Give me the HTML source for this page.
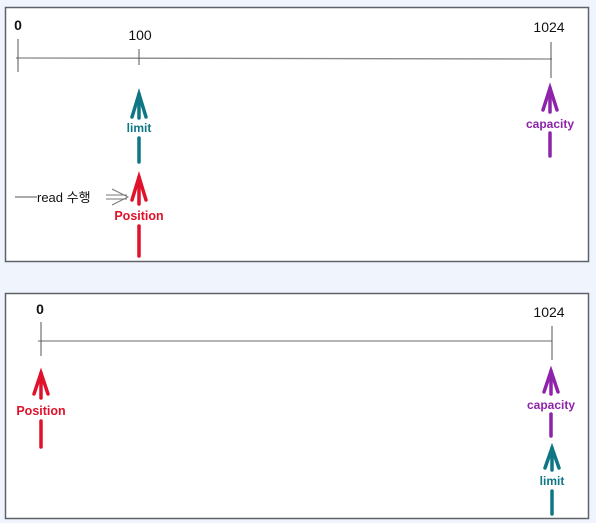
<!DOCTYPE html>
<html><head><meta charset="utf-8"><style>
html,body{margin:0;padding:0;background:#f0f5fd;}
svg{display:block}
text{font-family:"Liberation Sans","Noto Sans CJK KR",sans-serif;}
</style></head><body>
<svg width="596" height="523" viewBox="0 0 596 523" xmlns="http://www.w3.org/2000/svg">
<rect x="0" y="0" width="596" height="523" fill="#f0f5fd"/>
<rect x="5.5" y="7.5" width="583" height="254" fill="#fff" stroke="#5f6368" stroke-width="1.5"/>
<rect x="5.5" y="293.5" width="583" height="225" fill="#fff" stroke="#5f6368" stroke-width="1.5"/>

<line x1="16" y1="58" x2="552" y2="59" stroke="#888" stroke-width="1.3"/>
<line x1="18" y1="39" x2="18" y2="72" stroke="#555" stroke-width="1"/>
<line x1="139" y1="49" x2="139" y2="65" stroke="#555" stroke-width="1"/>
<line x1="551" y1="42" x2="551" y2="78" stroke="#555" stroke-width="1"/>
<text x="18" y="30" font-size="14" text-anchor="middle" fill="#111" font-weight="bold">0</text>
<text x="140" y="40" font-size="14" text-anchor="middle" fill="#111">100</text>
<text x="549" y="32" font-size="14" text-anchor="middle" fill="#111">1024</text>

<g stroke="#0f7685" stroke-width="3.5" fill="none" stroke-linecap="round">
<line x1="139" y1="94" x2="139" y2="118"/>
<polyline points="132,117 139,94 146,117"/>
<line x1="139" y1="138" x2="139" y2="162"/>
</g>
<text x="139" y="132" font-size="12" text-anchor="middle" fill="#0f7685" font-weight="bold">limit</text>

<g stroke="#e0112b" stroke-width="3.5" fill="none" stroke-linecap="round">
<line x1="139" y1="177" x2="139" y2="204"/>
<polyline points="132,200 139,177 146,200"/>
<line x1="139" y1="226" x2="139" y2="256"/>
</g>
<text x="139" y="220" font-size="12.5" text-anchor="middle" fill="#e0112b" font-weight="bold">Position</text>

<line x1="15" y1="197" x2="37" y2="197" stroke="#555" stroke-width="1"/>
<text x="37" y="202" font-size="13" fill="#111">read 수행</text>
<g stroke="#777" stroke-width="1" fill="none">
<line x1="106" y1="195" x2="127" y2="195"/>
<line x1="106" y1="199" x2="127" y2="199"/>
<polyline points="112,189 128,197 112,205"/>
</g>

<g stroke="#8e24aa" stroke-width="3.5" fill="none" stroke-linecap="round">
<line x1="550" y1="88" x2="550" y2="112"/>
<polyline points="543,110 550,88 557,110"/>
<line x1="550" y1="133" x2="550" y2="156"/>
</g>
<text x="550" y="128" font-size="12" text-anchor="middle" fill="#8e24aa" font-weight="bold">capacity</text>

<line x1="38" y1="341" x2="552" y2="341" stroke="#888" stroke-width="1.3"/>
<line x1="41" y1="322" x2="41" y2="356" stroke="#555" stroke-width="1"/>
<line x1="552" y1="326" x2="552" y2="360" stroke="#555" stroke-width="1"/>
<text x="40" y="314" font-size="14" text-anchor="middle" fill="#111" font-weight="bold">0</text>
<text x="549" y="317" font-size="14" text-anchor="middle" fill="#111">1024</text>

<g stroke="#e0112b" stroke-width="3.5" fill="none" stroke-linecap="round">
<line x1="41" y1="373" x2="41" y2="398"/>
<polyline points="34,394 41,373 48,394"/>
<line x1="41" y1="421" x2="41" y2="447"/>
</g>
<text x="41" y="415" font-size="12.5" text-anchor="middle" fill="#e0112b" font-weight="bold">Position</text>

<g stroke="#8e24aa" stroke-width="3.5" fill="none" stroke-linecap="round">
<line x1="551" y1="371" x2="551" y2="394"/>
<polyline points="544,392 551,371 558,392"/>
<line x1="551" y1="414" x2="551" y2="436"/>
</g>
<text x="551" y="409" font-size="12" text-anchor="middle" fill="#8e24aa" font-weight="bold">capacity</text>

<g stroke="#0f7685" stroke-width="3.5" fill="none" stroke-linecap="round">
<line x1="552" y1="448" x2="552" y2="470"/>
<polyline points="545,468 552,448 559,468"/>
<line x1="552" y1="491" x2="552" y2="514"/>
</g>
<text x="552" y="485" font-size="12" text-anchor="middle" fill="#0f7685" font-weight="bold">limit</text>
</svg>
</body></html>
